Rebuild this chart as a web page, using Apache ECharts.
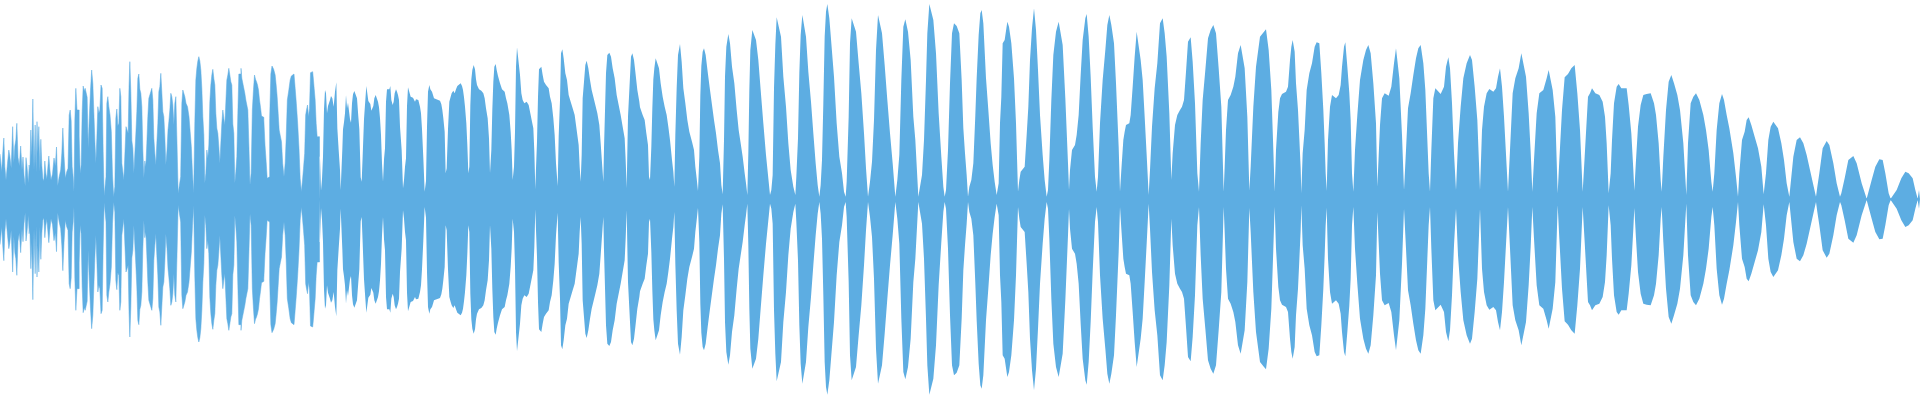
<!DOCTYPE html>
<html><head><meta charset="utf-8">
<style>html,body{margin:0;padding:0;background:#fff}#c{width:1920px;height:400px}</style>
<script src="https://cdn.jsdelivr.net/npm/echarts@6/dist/echarts.min.js"></script>
</head><body><div id="c"></div>
<script>
// Waveform envelope: each pair is [time within segment, amplitude].
const segmentStart = [0, 960, 1920, 2880, 3840, 4800];
const envelope0 = [[0,136],[3,136],[7,83],[10,143],[13,184],[16,98],[20,58],[25,108],[28,148],[31,130],[36,93],[40,218],[43,110],[46,160],[49,178],[52,228],[56,126],[60,100],[64,160],[68,88],[70,127],[74,73],[77,40],[79,125],[83,98],[87,48],[88,103],[91,83],[94,208],[97,130],[100,301],[104,88],[107,223],[110,80],[112,233],[115,138],[118,218],[121,83],[124,180],[127,101],[130,63],[133,55],[136,115],[139,78],[142,60],[145,58],[148,130],[151,91],[155,58],[160,76],[164,124],[168,100],[171,157],[175,40],[180,68],[184,88],[187,139],[190,214],[194,130],[198,63],[202,82],[206,93],[209,253],[212,268],[215,236],[218,98],[221,68],[223,23],[226,238],[229,333],[233,268],[236,268],[239,190],[242,78],[245,103],[248,263],[251,340],[254,325],[257,333],[260,333],[263,306],[266,153],[270,248],[273,328],[277,388],[280,348],[283,263],[286,178],[289,108],[292,183],[295,278],[298,258],[301,268],[305,343],[308,333],[311,143],[314,10],[317,8],[319,68],[322,288],[325,308],[328,278],[332,253],[336,203],[339,73],[343,8],[346,38],[349,243],[352,271],[355,220],[358,228],[361,333],[364,308],[367,108],[370,83],[373,58],[376,60],[380,218],[383,220],[386,198],[388,336],[391,413],[394,323],[397,176],[400,153],[403,78],[406,83],[409,196],[412,263],[415,363],[418,376],[421,330],[424,318],[427,278],[430,148],[433,63],[436,115],[439,98],[442,168],[445,248],[448,303],[451,313],[454,313],[457,333],[460,298],[463,183],[466,138],[469,103],[472,168],[475,228],[478,323],[481,338],[484,378],[487,373],[490,263],[493,248],[496,188],[499,103],[503,148],[505,208],[508,233],[511,268],[514,318],[517,308],[520,283],[523,223],[526,288],[529,308],[533,168],[536,18],[540,16],[544,68],[547,288],[550,328],[553,331],[556,308],[560,288],[565,278],[569,248],[572,203],[576,158],[579,78],[583,18],[586,233],[589,358],[592,393],[595,415],[598,428],[601,415],[604,388],[607,333],[610,248],[613,193],[616,48],[619,78],[622,148],[625,123],[628,163],[631,293],[634,343],[637,373],[640,390],[643,363],[646,343],[649,258],[652,213],[655,198],[658,158],[661,108],[664,103],[667,228],[670,268],[673,243],[676,223],[679,226],[682,358],[685,373],[688,393],[691,398],[694,353],[697,343],[700,226],[703,198],[706,48],[709,83],[712,128],[715,258],[718,376],[722,376],[724,393],[727,363],[730,348],[733,333],[736,318],[739,298],[742,283],[745,268],[748,168],[752,43],[755,78],[759,268],[762,330],[765,373],[768,360],[771,353],[774,343],[777,328],[780,298],[783,276],[786,250],[790,246],[793,238],[797,163],[800,113],[803,63],[807,68],[811,243],[814,376],[818,400],[824,390],[827,373],[830,343],[833,308],[836,258],[839,208],[843,190],[846,173],[850,108],[854,68],[857,108],[860,183],[864,298],[869,328],[872,358],[876,370],[880,376],[884,376],[887,333],[891,288],[895,228],[899,153],[902,63],[906,23],[909,58],[912,93],[916,138],[918,253],[921,268],[924,283],[927,248],[930,273],[933,380],[938,383],[941,368],[944,333],[947,298],[950,228],[953,188],[957,188],[960,128]];
const envelope1 = [[0,123],[3,26],[6,61],[9,128],[12,271],[15,328],[18,318],[21,258],[24,280],[28,280],[30,298],[33,310],[37,303],[41,278],[45,323],[49,351],[52,213],[56,148],[60,88],[62,28],[66,28],[67,150],[69,210],[72,231],[75,258],[78,313],[81,273],[84,290],[87,293],[90,240],[93,230],[96,288],[99,315],[103,325],[108,325],[111,303],[115,248],[118,210],[122,66],[125,53],[128,130],[132,240],[136,298],[139,340],[143,340],[145,295],[148,292],[151,286],[154,266],[157,263],[160,280],[163,303],[167,313],[170,308],[174,293],[177,276],[180,243],[183,193],[186,108],[189,53],[192,120],[195,153],[198,293],[201,330],[205,333],[208,330],[211,340],[214,298],[218,283],[221,293],[224,318],[228,330],[231,323],[234,313],[237,298],[240,218],[245,148],[249,33],[252,58],[255,98],[258,123],[261,280],[264,336],[268,340],[272,308],[275,313],[279,305],[282,300],[285,293],[288,300],[292,303],[295,298],[300,278],[303,258],[306,210],[310,123],[314,23],[318,55],[321,218],[324,323],[328,343],[331,330],[336,323],[339,313],[342,303],[346,298],[360,296],[364,285],[367,268],[370,243],[374,203],[377,78],[380,93],[384,210],[388,293],[392,308],[395,318],[400,326],[404,318],[408,330],[412,340],[416,346],[422,348],[426,340],[429,328],[432,306],[435,278],[439,228],[442,163],[445,78],[448,98],[451,283],[454,360],[457,388],[461,403],[465,390],[468,360],[471,343],[477,330],[484,326],[490,318],[494,303],[498,273],[503,243],[507,183],[510,78],[514,148],[517,270],[520,353],[523,398],[527,406],[530,388],[534,370],[540,348],[546,330],[554,323],[558,303],[562,288],[568,253],[572,203],[575,148],[578,58],[582,98],[585,203],[588,398],[591,456],[596,450],[600,373],[604,318],[608,298],[613,288],[620,293],[626,283],[632,253],[636,233],[640,213],[643,143],[646,30],[648,93],[651,173],[654,308],[657,390],[660,393],[664,398],[668,373],[672,353],[678,343],[686,333],[690,308],[695,288],[700,243],[704,193],[708,108],[713,40],[716,188],[720,298],[723,438],[727,450],[731,423],[736,378],[741,358],[746,313],[752,293],[758,273],[764,253],[768,223],[772,193],[776,163],[779,98],[782,53],[785,133],[788,303],[792,353],[796,403],[800,416],[805,393],[810,358],[815,328],[820,308],[826,283],[832,258],[838,223],[842,168],[850,53],[852,153],[858,378],[862,433],[868,440],[873,428],[878,393],[884,363],[890,313],[896,283],[902,253],[908,218],[914,183],[917,118],[920,33],[924,248],[928,328],[933,428],[937,438],[942,418],[946,383],[952,328],[958,293]];
const envelope2 = [[0,276],[8,253],[14,238],[19,198],[24,163],[27,68],[30,58],[34,158],[37,273],[40,360],[43,393],[47,423],[52,428],[57,393],[62,348],[68,308],[74,278],[80,253],[85,218],[90,178],[96,118],[100,83],[103,38],[106,193],[110,333],[114,433],[120,466],[125,413],[130,333],[136,288],[142,238],[148,203],[156,173],[162,148],[166,98],[170,63],[174,25],[178,128],[181,313],[184,400],[188,443],[192,453],[197,433],[203,383],[210,328],[216,283],[222,238],[228,198],[234,148],[240,108],[244,43],[248,15],[252,178],[255,368],[259,458],[265,496],[270,468],[276,398],[283,348],[290,268],[296,208],[302,168],[308,128],[314,78],[318,48],[322,13],[325,138],[328,328],[331,448],[337,508],[342,513],[348,478],[355,418],[362,328],[370,228],[378,133],[384,73],[390,13],[394,28],[398,73],[402,333],[406,463],[410,546],[416,550],[423,488],[430,368],[438,278],[445,168],[452,88],[460,38],[466,13],[469,68],[474,183],[478,378],[482,493],[487,553],[492,556],[498,488],[505,383],[513,293],[520,198],[527,108],[533,43],[538,8],[542,43],[546,118],[550,288],[554,488],[558,563],[562,586],[568,543],[574,468],[582,368],[590,228],[598,128],[606,78],[612,23],[617,8],[620,53],[626,248],[630,468],[635,543],[640,546],[648,503],[656,408],[664,318],[672,198],[678,93],[684,8],[690,53],[696,113],[702,238],[708,448],[714,553],[718,556],[726,498],[734,403],[742,298],[750,198],[758,108],[766,8],[772,58],[778,133],[784,358],[790,518],[796,540],[804,503],[812,418],[820,248],[826,178],[835,8],[840,38],[846,73],[852,178],[858,358],[862,498],[868,586],[874,590],[880,538],[888,438],[896,258],[904,128],[910,38],[914,8],[918,28],[924,148],[930,348],[936,498],[942,528],[950,520],[958,498]];
const envelope3 = [[0,458],[5,358],[10,213],[15,138],[20,73],[24,8],[28,38],[34,58],[40,108],[46,253],[50,363],[56,493],[61,558],[65,568],[70,528],[78,363],[85,268],[92,168],[98,103],[104,53],[110,13],[114,8],[116,48],[120,228],[124,308],[128,468],[134,478],[142,533],[147,518],[154,468],[162,363],[168,228],[174,23],[178,58],[182,83],[188,83],[194,98],[200,193],[205,278],[210,418],[216,513],[222,573],[228,508],[234,388],[240,253],[248,133],[254,58],[260,8],[264,28],[268,118],[274,298],[280,433],[288,503],[296,533],[302,528],[308,463],[316,303],[324,108],[327,28],[330,88],[336,148],[345,163],[350,193],[356,253],[362,373],[368,478],[376,543],[380,556],[386,488],[392,368],[398,218],[405,68],[410,23],[414,68],[420,228],[428,358],[436,448],[442,523],[448,553],[454,523],[462,468],[468,348],[476,158],[480,23],[484,88],[490,178],[494,203],[498,223],[508,228],[512,253],[518,338],[524,428],[530,503],[536,498],[542,418],[548,358],[554,248],[560,133],[566,13],[570,88],[576,218],[584,333],[592,408],[600,528],[608,543],[614,498],[620,428],[628,258],[634,58],[638,138],[645,223],[652,253],[660,268],[666,278],[672,298],[678,383],[684,473],[692,486],[698,413],[705,288],[712,78],[717,23],[722,168],[728,298],[736,388],[744,483],[752,508],[760,523],[768,498],[776,393],[784,278],[791,23],[794,98],[798,208],[804,298],[812,313],[820,338],[826,368],[834,438],[842,463],[848,468],[854,393],[862,248],[868,26],[872,98],[880,278],[888,398],[900,488],[912,503],[918,510],[926,448],[934,328],[940,148],[944,23],[948,148],[955,263],[958,286]];
const envelope4 = [[0,303],[6,316],[18,323],[24,338],[30,418],[34,458],[38,478],[44,443],[48,348],[54,268],[58,183],[62,93],[64,18],[68,138],[74,208],[80,328],[88,378],[96,408],[104,458],[110,471],[118,468],[124,378],[130,268],[134,168],[137,78],[140,25],[144,178],[150,278],[156,313],[168,303],[176,313],[182,343],[186,398],[192,458],[196,471],[202,398],[208,318],[212,238],[216,78],[220,23],[225,148],[232,253],[240,358],[250,418],[258,448],[265,463],[272,438],[280,348],[288,228],[292,38],[296,130],[300,223],[306,303],[314,318],[326,311],[334,338],[342,408],[348,453],[352,458],[358,363],[366,193],[372,28],[378,148],[384,273],[392,318],[400,373],[408,423],[415,453],[422,463],[430,408],[436,328],[442,178],[446,78],[450,23],[454,148],[460,303],[466,333],[472,336],[482,316],[492,338],[498,398],[505,426],[510,393],[516,288],[522,138],[528,28],[534,168],[542,278],[550,363],[560,408],[570,433],[576,418],[584,338],[592,238],[600,28],[606,208],[612,278],[620,318],[628,331],[640,323],[648,333],[654,368],[660,393],[666,338],[672,248],[680,98],[684,23],[690,148],[698,318],[706,363],[716,393],[724,438],[730,433],[738,368],[746,258],[752,143],[757,23],[762,118],[770,258],[778,318],[790,328],[800,363],[806,388],[812,393],[818,328],[826,248],[833,18],[838,118],[846,268],[854,366],[864,376],[874,393],[884,403],[892,318],[900,208],[908,23],[914,128],[924,308],[930,318],[936,333],[946,318],[958,313]];
const envelope5 = [[0,313],[8,293],[15,248],[20,168],[26,18],[32,78],[36,178],[42,288],[50,338],[56,346],[64,333],[80,333],[86,283],[94,198],[100,88],[103,26],[108,118],[114,218],[122,283],[130,313],[140,316],[152,318],[162,288],[168,253],[176,168],[182,58],[185,23],[190,128],[198,268],[206,353],[214,373],[222,348],[232,313],[240,268],[250,168],[256,63],[259,13],[264,168],[272,288],[280,308],[288,318],[298,298],[310,253],[318,208],[326,148],[334,53],[338,23],[343,78],[350,208],[358,288],[366,316],[372,298],[380,253],[388,213],[400,138],[408,68],[414,8],[418,78],[426,178],[434,203],[440,238],[446,246],[454,223],[464,188],[474,153],[484,98],[491,15],[498,78],[505,178],[512,218],[520,233],[526,238],[534,213],[544,168],[552,118],[560,48],[568,8],[574,68],[580,128],[590,178],[600,186],[610,168],[620,133],[630,88],[640,43],[648,8],[652,38],[658,78],[668,153],[680,175],[688,163],[700,108],[710,48],[720,8],[724,18],[734,63],[745,118],[760,130],[770,108],[785,48],[800,2],[806,8],[815,58],[826,98],[838,120],[848,118],[856,78],[866,18],[872,2],[878,8],[890,28],[904,63],[916,83],[926,78],[938,63],[946,28],[953,2],[956,2],[957,28],[959,28],[960,0]];

const COLOR = '#5DADE2';
const placed = (trace, i) => trace.map(p => [segmentStart[i] + p[0], p[1]]);
const denseTrace = placed(envelope0, 0);
const lobeTrace = [envelope1, envelope2, envelope3, envelope4, envelope5]
  .flatMap((t, i) => placed(t, i + 1));
const mirror = t => t.map(p => [p[0], -p[1]]);
const wave = (data, step, origin, stroke) => ({
  type: 'line', data, step, showSymbol: false, silent: true,
  lineStyle: { width: stroke, color: COLOR }, areaStyle: { color: COLOR, opacity: 1, origin }
});
const chart = echarts.init(document.getElementById('c'), null, { renderer: 'canvas' });
chart.setOption({
  animation: false,
  grid: { left: 0, right: 0, top: 0, bottom: 0 },
  xAxis: { type: 'value', min: 0, max: 5760, show: false },
  yAxis: { type: 'value', min: -602, max: 598, show: false },
  series: [
    wave(denseTrace, 'middle', -3, 0.5), wave(mirror(denseTrace), 'middle', 3, 0.5),
    wave(lobeTrace, false, -3, 0), wave(mirror(lobeTrace), false, 3, 0)
  ]
});
</script></body></html>
